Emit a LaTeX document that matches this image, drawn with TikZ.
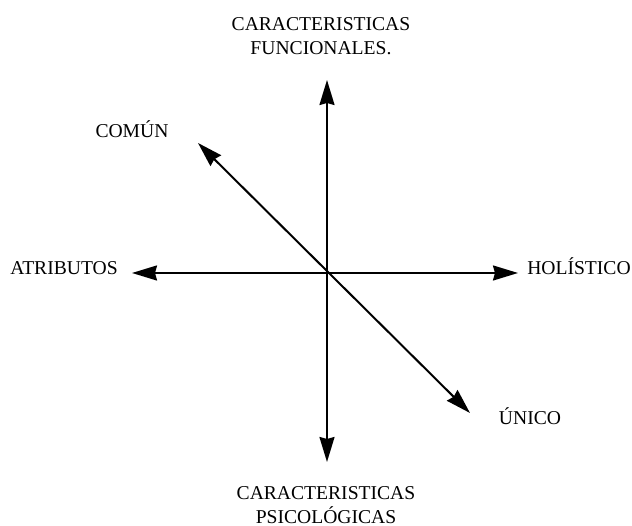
\documentclass[tikz,border=0pt]{standalone}
\usepackage{fontspec}
\setmainfont{Liberation Serif}
\usetikzlibrary{arrows.meta, positioning}

\begin{document}
\begin{tikzpicture}[
                x=1pt, y=1pt,
                axislabel/.style={inner sep=0pt, align=center, font=\fontsize{19.6}{23.5}\selectfont},
                axis/.style={<->, line width=2pt, >={Stealth[length=25pt, width=15pt, inset=2pt]}}
            ]
                \useasboundingbox (0,0) rectangle (632,526);

                % Arrow ends
                \coordinate (top) at (327, 446);
                \coordinate (bottom) at (327, 64);
                \coordinate (left) at (132, 253);
                \coordinate (right) at (518, 253);
                \coordinate (nw) at (198, 383);
                \coordinate (se) at (470, 113);

                % Labels
                \node[axislabel] (func) at (321, 490) {CARACTERISTICAS\\FUNCIONALES.};
                \node[axislabel] (psico) at (326, 21) {CARACTERISTICAS\\PSICOLÓGICAS};
                \node[axislabel, anchor=base] (atrib) at (64, 251) {ATRIBUTOS};
                \node[axislabel, anchor=base] (holis) at (579, 251) {HOLÍSTICO};
                \node[axislabel, anchor=base] (comun) at (132, 388) {COMÚN};
                \node[axislabel, anchor=base] (unico) at (530, 101) {ÚNICO};

                \draw[axis] (top) -- (bottom);
                \draw[axis] (left) -- (right);
                \draw[axis] (nw) -- (se);
            \end{tikzpicture}
\end{document}
